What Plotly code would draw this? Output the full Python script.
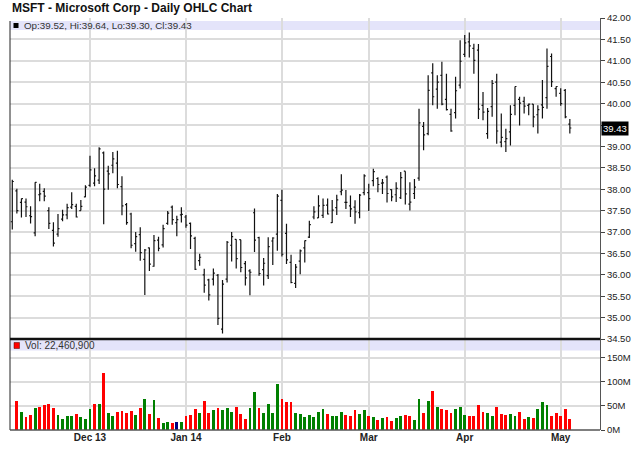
import pandas as pd
import plotly.graph_objects as go

# ---------------- data ----------------
holidays = ["2013-11-28", "2013-12-25", "2014-01-01", "2014-01-20", "2014-02-17", "2014-04-18"]
dates = [d.strftime("%Y-%m-%d") for d in pd.bdate_range("2013-11-06", "2014-05-05")
         if d.strftime("%Y-%m-%d") not in holidays]

prev_close = 36.64

opens = [
    37.24, 37.96, 37.69, 37.70, 37.38, 36.98, 37.87, 37.95, 37.50, 37.04,
    36.95, 37.30, 37.40, 37.58, 37.60, 37.50, 37.82,
    38.09, 38.14, 38.21, 38.85, 38.42, 38.56, 38.61, 38.06, 37.64, 37.42,
    36.73, 36.94, 36.36, 36.63, 36.20, 36.81, 36.70, 37.20, 37.58, 37.22, 37.40,
    37.35, 37.20, 36.85, 36.33, 36.00, 35.88, 35.90, 35.99, 34.73, 35.90,
    36.69, 36.83, 36.82, 36.26, 36.09, 37.45, 36.87, 36.12, 35.98, 36.79, 36.95,
    37.74, 36.97, 36.29, 35.80, 36.32, 36.63, 36.88, 37.35, 37.33, 37.39,
    37.63, 37.22, 37.57, 37.94, 37.69, 37.61, 37.58, 37.45, 37.92,
    37.92, 38.20, 38.25, 38.14, 38.28, 37.99, 37.87, 37.80, 38.42, 37.65, 37.90,
    38.26, 39.47, 39.30, 40.72, 40.34, 40.66, 40.10, 39.75, 39.79, 40.43,
    41.15, 41.44, 41.29, 41.25, 39.96, 39.30, 39.93, 40.50, 39.10, 39.11,
    39.34, 39.96, 40.10, 40.05, 39.96, 39.99, 39.74, 39.97, 40.14, 41.10,
    40.35, 40.24, 40.31, 39.52,
]
highs = [
    38.22, 38.01, 37.78, 37.78, 37.60, 38.16, 38.13, 38.02, 37.58, 37.23,
    37.42, 37.52, 37.66, 37.93, 37.66, 37.75, 38.09,
    38.78, 38.49, 38.98, 38.88, 38.55, 38.87, 38.90, 38.30, 37.68, 37.45,
    37.00, 37.11, 36.60, 36.64, 36.93, 36.89, 37.17, 37.49, 37.62, 37.38, 37.58,
    37.40, 37.22, 36.89, 36.49, 36.14, 35.91, 36.15, 36.02, 35.88, 36.79,
    37.00, 36.83, 36.82, 36.32, 36.13, 37.55, 36.89, 36.39, 36.88, 36.88, 37.89,
    37.99, 37.19, 36.47, 36.25, 36.59, 36.80, 37.26, 37.60, 37.86, 37.78,
    37.78, 37.75, 37.87, 38.35, 37.98, 37.85, 37.74, 37.89, 38.35,
    38.13, 38.48, 38.28, 38.24, 38.32, 38.00, 38.16, 38.40, 38.42, 38.16, 38.24,
    39.88, 39.57, 40.66, 40.94, 40.66, 40.98, 40.70, 39.88, 40.63, 41.48,
    41.60, 41.66, 41.40, 41.39, 40.27, 39.90, 40.55, 40.70, 39.77, 39.41,
    39.96, 40.40, 40.16, 40.16, 40.00, 39.99, 39.96, 40.55, 41.29, 41.17,
    40.40, 40.36, 40.34, 39.64,
]
lows = [
    37.06, 37.43, 37.34, 37.35, 37.20, 36.90, 37.72, 37.72, 37.07, 36.66,
    36.89, 37.25, 37.30, 37.54, 37.34, 37.50, 37.81,
    38.06, 38.07, 38.12, 37.18, 37.99, 38.37, 38.02, 37.39, 37.17, 36.62,
    36.54, 36.33, 35.53, 36.09, 36.19, 36.55, 36.64, 37.17, 37.17, 36.90, 37.22,
    37.10, 36.60, 36.11, 36.21, 35.58, 35.40, 35.75, 34.83, 34.63, 35.82,
    36.31, 36.15, 36.06, 35.75, 35.52, 36.53, 35.98, 35.75, 35.90, 36.23, 36.56,
    36.43, 36.25, 35.80, 35.69, 36.01, 36.29, 36.86, 37.30, 37.33, 37.33,
    37.41, 37.21, 37.40, 37.86, 37.54, 37.35, 37.19, 37.32, 37.86,
    37.49, 38.07, 37.93, 37.89, 37.69, 37.72, 37.70, 37.77, 37.64, 37.50, 37.77,
    38.20, 38.91, 39.26, 39.96, 39.88, 39.96, 39.84, 39.34, 39.65, 40.35,
    41.09, 41.08, 40.70, 39.64, 39.61, 39.18, 39.69, 39.06, 38.98, 38.87,
    39.02, 39.73, 39.49, 39.77, 39.73, 39.45, 39.30, 39.65, 39.88, 40.39,
    40.16, 39.95, 39.66, 39.30,
]
closes = [
    38.18, 37.50, 37.78, 37.59, 37.36, 38.16, 37.89, 37.84, 37.20, 36.74,
    37.08, 37.40, 37.57, 37.64, 37.35, 37.60, 38.05,
    38.45, 38.31, 38.94, 38.00, 38.36, 38.71, 38.11, 37.61, 37.22, 36.69,
    36.89, 36.52, 36.58, 36.25, 36.80, 36.62, 37.08, 37.44, 37.29, 37.29, 37.41,
    37.16, 36.91, 36.13, 36.41, 35.76, 35.53, 36.04, 34.98, 35.78, 36.76,
    36.89, 36.38, 36.17, 35.93, 36.06, 36.81, 36.03, 36.27, 36.66, 36.86, 37.84,
    36.48, 36.35, 35.82, 36.18, 36.56, 36.80, 37.17, 37.47, 37.61, 37.62,
    37.42, 37.51, 37.75, 37.98, 37.69, 37.54, 37.47, 37.86, 38.31,
    37.78, 38.41, 38.11, 38.15, 37.90, 37.82, 38.02, 38.27, 37.89, 37.70, 38.05,
    39.55, 39.27, 40.31, 40.16, 40.50, 39.99, 39.86, 39.36, 40.30, 40.99,
    41.42, 41.35, 41.01, 39.87, 39.80, 39.82, 40.47, 39.36, 39.21, 39.18,
    39.75, 40.40, 40.01, 39.94, 39.99, 39.69, 39.86, 39.91, 40.87, 40.51,
    40.40, 40.00, 39.69, 39.43,
]
# volume in millions of shares (first session's bar is not shown in the chart)
volumes_m = [
    None, 61, 37.5, 26, 32, 45, 47, 51, 53, 45, 32, 23, 28, 30, 34, 26, 23,
    44, 53, 53, 118, 36, 30, 38, 40, 36, 40, 32, 46, 65, 34, 62, 25, 15, 17, 15, 17, 17,
    30, 32, 44, 36, 61, 36, 42, 45, 42, 45, 38, 47, 34, 23, 45, 78, 45, 36, 53, 36, 95,
    65, 57, 57, 36, 34, 26, 32, 26, 38, 44, 34, 30, 28, 37.5, 32, 30, 42, 34, 42,
    30, 26, 21, 24, 26, 19, 24, 30, 32, 28, 21, 65, 36, 61, 81, 47, 44, 42, 36, 44, 47,
    32, 28, 30, 51, 38, 36, 28, 47, 34, 32, 34, 30, 38, 23, 26, 24, 44, 57, 51, 30, 36, 28, 44, 22.4609,
]

month_ticks = ["2013-12-02", "2014-01-02", "2014-02-03", "2014-03-03", "2014-04-01", "2014-05-01"]
month_labels = ["Dec 13", "Jan 14", "Feb", "Mar", "Apr", "May"]
price_ticks = [34.5 + 0.5 * k for k in range(16)]
vol_ticks_m = [0, 50, 100, 150]

# ---------------- derived ----------------
last = len(closes) - 1
volumes = [None if v is None else v * 1e6 for v in volumes_m]
vol_colors = []
pc = prev_close
for c in closes:
    vol_colors.append("#ff0000" if c < pc else ("#008000" if c > pc else "#000080"))
    pc = c

# the last-price box hides the tick label underneath it
price_text = ["" if abs(t - closes[last]) < 0.2 else f"{t:.2f}" for t in price_ticks]

# pixel helpers (plot area: x 10..600, y 18..430)
TOP, BOT, SPLIT = 18, 430, 339
H = BOT - TOP
def py(p):
    return (BOT - p) / H

GRID = "#dcdcdc"
FONT = "Liberation Sans, Arial, sans-serif"

fig = go.Figure()
fig.add_trace(go.Ohlc(
    x=dates, open=opens, high=highs, low=lows, close=closes,
    xaxis="x", yaxis="y", hoverinfo="skip", tickwidth=0.33,
    increasing=dict(line=dict(color="#111111", width=1.2)),
    decreasing=dict(line=dict(color="#111111", width=1.2)),
))
fig.add_trace(go.Bar(
    x=dates, y=volumes, xaxis="x2", yaxis="y2",
    marker=dict(color=vol_colors, line=dict(width=0)),
    width=0.62, hoverinfo="skip",
))

xcommon = dict(type="category", range=[-0.5, 128.6], tickmode="array", tickvals=month_ticks,
               ticktext=month_labels, showgrid=True, gridcolor=GRID, gridwidth=1.5,
               zeroline=False, fixedrange=True, automargin=False, showline=False)

ycommon = dict(side="right", tickmode="array", showgrid=True, gridcolor=GRID, gridwidth=1.5,
               zeroline=False, ticks="outside", ticklen=4, tickcolor="#444", showline=True,
               linecolor="#555", linewidth=1, tickfont=dict(family=FONT, size=9.5, color="#222"),
               fixedrange=True, automargin=False)

fig.update_layout(
    width=640, height=468,
    margin=dict(l=10, r=40, t=TOP, b=468 - BOT, autoexpand=False),
    paper_bgcolor="white", plot_bgcolor="white",
    showlegend=False,
    font=dict(family=FONT, size=10, color="#222"),
    xaxis=dict(**xcommon, domain=[0, 1], anchor="y", showticklabels=False, ticks="",
               rangeslider=dict(visible=False)),
    xaxis2=dict(**xcommon, domain=[0, 1], anchor="y2", matches="x", showticklabels=True,
                ticks="", tickfont=dict(family=FONT, size=10, color="#222", weight="bold")),
    yaxis=dict(**ycommon, domain=[py(SPLIT), 1], range=[34.5, 42.0],
               tickvals=price_ticks, ticktext=price_text),
    yaxis2=dict(**ycommon, domain=[0, py(SPLIT)], range=[0, 188.5e6],
                tickvals=[v * 1e6 for v in vol_ticks_m], ticktext=[f"{v}M" for v in vol_ticks_m]),
    bargap=0,
)

shapes = [
    # legend bands
    dict(type="rect", xref="paper", yref="paper", x0=0, x1=1, y0=py(30), y1=py(21),
         fillcolor="#e4e4fa", line=dict(width=0), layer="below"),
    dict(type="rect", xref="paper", yref="paper", x0=0, x1=1, y0=py(350.5), y1=py(340),
         fillcolor="#e4e4fa", line=dict(width=0), layer="below"),
    # legend squares
    dict(type="rect", xref="paper", yref="paper", x0=3.5 / 590, x1=8.5 / 590, y0=py(28), y1=py(23),
         fillcolor="black", line=dict(width=0)),
    dict(type="rect", xref="paper", yref="paper", x0=4 / 590, x1=9.5 / 590, y0=py(348.5), y1=py(342.5),
         fillcolor="#ff0000", line=dict(color="#550000", width=0.5)),
    # frame lines
    dict(type="line", xref="paper", yref="paper", x0=0, x1=0, y0=0, y1=py(21),
         line=dict(color="#222", width=1)),
    dict(type="line", xref="paper", yref="paper", x0=0, x1=1, y0=py(SPLIT), y1=py(SPLIT),
         line=dict(color="#111", width=2.5)),
    dict(type="line", xref="paper", yref="paper", x0=0, x1=1, y0=0, y1=0,
         line=dict(color="#555", width=1.5)),
]
fig.update_layout(shapes=shapes)

annotations = [
    dict(text="MSFT - Microsoft Corp - Daily OHLC Chart", xref="paper", yref="paper",
         x=0, y=py(8.5), xanchor="left", yanchor="middle", showarrow=False,
         font=dict(family=FONT, size=12, color="#111", weight="bold")),
    dict(text=f"Op:{opens[last]:.2f}, Hi:{highs[last]:.2f}, Lo:{lows[last]:.2f}, Cl:{closes[last]:.2f}",
         xref="paper", yref="paper", x=11.5 / 590, y=py(25.5), xanchor="left", yanchor="middle",
         showarrow=False, font=dict(family=FONT, size=9.8, color="#333")),
    dict(text="Vol: 22,460,900", xref="paper", yref="paper", x=13 / 590, y=py(345.5),
         xanchor="left", yanchor="middle", showarrow=False,
         font=dict(family=FONT, size=10, color="#333")),
    dict(text=f"{closes[last]:.2f}", xref="paper", yref="y", x=1, y=closes[last],
         xanchor="left", yanchor="middle", xshift=1, showarrow=False, bgcolor="black",
         borderpad=1, font=dict(family=FONT, size=9.5, color="white")),
]
fig.update_layout(annotations=annotations)

fig.write_html("out.html", config={"displayModeBar": False},
               post_script="document.body.style.margin='0';document.body.style.padding='0';")
